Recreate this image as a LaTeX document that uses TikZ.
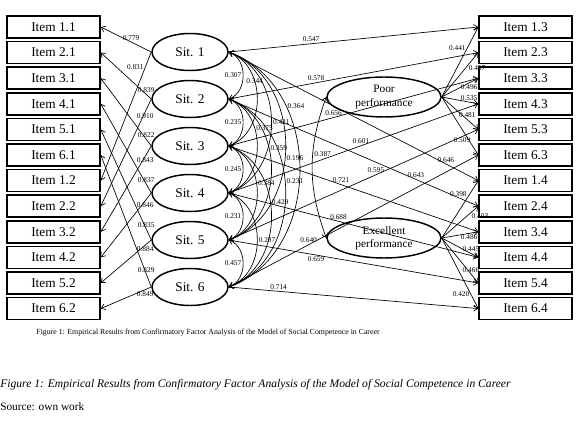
\documentclass[tikz,border=0pt]{standalone}
\usepackage{fontspec}
\setmainfont{Liberation Serif}
\usetikzlibrary{arrows.meta,positioning,shapes.geometric}

\begin{document}
\begin{tikzpicture}[
  x=0.75pt, y=-0.75pt,
  node distance=1.6pt,
  item/.style={draw, line width=1.1pt, minimum width=69.75pt, minimum height=16.5pt, inner sep=0pt, font=\fontsize{10}{12}\selectfont},
  sit/.style={draw, ellipse, line width=1.1pt, minimum width=57pt, minimum height=27.75pt, inner sep=0pt, font=\fontsize{10}{12}\selectfont},
  perf/.style={draw, ellipse, line width=1.1pt, minimum width=85.5pt, minimum height=30pt, inner sep=0pt, align=center, font=\fontsize{8.5}{10}\selectfont},
  load/.style={-{Straight Barb[length=3pt,width=4.5pt]}, line width=0.5pt},
  cov/.style={{Straight Barb[length=3pt,width=4.5pt]}-{Straight Barb[length=3pt,width=4.5pt]}, line width=0.5pt},
  lbl/.style={font=\fontsize{5.5}{6}\selectfont, inner sep=1pt}
]
\useasboundingbox (0,0) rectangle (580,420);

% left items
\node[item] (i11) at (53.5,27) {Item 1.1};
\node[item, below=of i11] (i21) {Item 2.1};
\node[item, below=of i21] (i31) {Item 3.1};
\node[item, below=of i31] (i41) {Item 4.1};
\node[item, below=of i41] (i51) {Item 5.1};
\node[item, below=of i51] (i61) {Item 6.1};
\node[item, below=of i61] (i12) {Item 1.2};
\node[item, below=of i12] (i22) {Item 2.2};
\node[item, below=of i22] (i32) {Item 3.2};
\node[item, below=of i32] (i42) {Item 4.2};
\node[item, below=of i42] (i52) {Item 5.2};
\node[item, below=of i52] (i62) {Item 6.2};

% right items
\node[item] (i13) at (525.5,27) {Item 1.3};
\node[item, below=of i13] (i23) {Item 2.3};
\node[item, below=of i23] (i33) {Item 3.3};
\node[item, below=of i33] (i43) {Item 4.3};
\node[item, below=of i43] (i53) {Item 5.3};
\node[item, below=of i53] (i63) {Item 6.3};
\node[item, below=of i63] (i14) {Item 1.4};
\node[item, below=of i14] (i24) {Item 2.4};
\node[item, below=of i24] (i34) {Item 3.4};
\node[item, below=of i34] (i44) {Item 4.4};
\node[item, below=of i44] (i54) {Item 5.4};
\node[item, below=of i54] (i64) {Item 6.4};

% situations
\node[sit] (s1) at (190,52) {Sit. 1};
\node[sit, below=6.4pt of s1] (s2) {Sit. 2};
\node[sit, below=6.4pt of s2] (s3) {Sit. 3};
\node[sit, below=6.4pt of s3] (s4) {Sit. 4};
\node[sit, below=6.4pt of s4] (s5) {Sit. 5};
\node[sit, below=6.4pt of s5] (s6) {Sit. 6};

% performance factors
\node[perf] (poor) at (384,97) {Poor\\performance};
\node[perf] (excel) at (384,238) {Excellent\\performance};

% loadings, left
\draw[load] (s1.west) -- node[lbl, pos=.4, above] {0.779} (i11.east);
\draw[load] (s1.west) -- node[lbl, pos=.12, left] {0.831} (i12.east);
\draw[load] (s2.west) -- node[lbl, pos=.1, above] {0.839} (i21.east);
\draw[load] (s2.west) -- node[lbl, pos=.12, below] {0.910} (i22.east);
\draw[load] (s3.west) -- node[lbl, pos=.1, above] {0.822} (i31.east);
\draw[load] (s3.west) -- node[lbl, pos=.12, below] {0.843} (i32.east);
\draw[load] (s4.west) -- node[lbl, pos=.1, above] {0.837} (i41.east);
\draw[load] (s4.west) -- node[lbl, pos=.12, below] {0.846} (i42.east);
\draw[load] (s5.west) -- node[lbl, pos=.1, above] {0.835} (i51.east);
\draw[load] (s5.west) -- node[lbl, pos=.12, below] {0.884} (i52.east);
\draw[load] (s6.west) -- node[lbl, pos=.1, above] {0.829} (i61.east);
\draw[load] (s6.west) -- node[lbl, pos=.12, below] {0.849} (i62.east);

% loadings, right
\draw[load] (s1.east) -- node[lbl, pos=.33, above] {0.547} (i13.west);
\draw[load] (s1.east) -- node[lbl, pos=.87, above] {0.646} (i14.west);
\draw[load] (s2.east) -- node[lbl, pos=.35, above] {0.578} (i23.west);
\draw[load] (s2.east) -- node[lbl, pos=.75, above] {0.643} (i24.west);
\draw[load] (s3.east) -- node[lbl, pos=.42, above] {0.656} (i33.west);
\draw[load] (s3.east) -- node[lbl, pos=.45, above] {0.721} (i34.west);
\draw[load] (s4.east) -- node[lbl, pos=.53, above] {0.601} (i43.west);
\draw[load] (s4.east) -- node[lbl, pos=.44, above] {0.688} (i44.west);
\draw[load] (s5.east) -- node[lbl, pos=.59, above] {0.595} (i53.west);
\draw[load] (s5.east) -- node[lbl, pos=.35, below] {0.659} (i54.west);
\draw[load] (s6.east) -- node[lbl, pos=.32, above] {0.640} (i63.west);
\draw[load] (s6.east) -- node[lbl, pos=.2, above] {0.714} (i64.west);

% method factors
\draw[load] (poor.east) -- node[lbl, pos=.7, left] {0.441} (i13.west);
\draw[load] (poor.east) -- node[lbl, pos=.72, below right=-1pt] {0.457} (i23.west);
\draw[load] (poor.east) -- node[lbl, pos=.75, below] {0.496} (i33.west);
\draw[load] (poor.east) -- node[lbl, pos=.75, above] {0.535} (i43.west);
\draw[load] (poor.east) -- node[lbl, pos=.7, above] {0.481} (i53.west);
\draw[load] (poor.east) -- node[lbl, pos=.8, above left=-1pt] {0.509} (i63.west);
\draw[load] (excel.east) -- node[lbl, pos=.7, above left=-1pt] {0.398} (i14.west);
\draw[load] (excel.east) -- node[lbl, pos=.8, below right=-1pt] {0.403} (i24.west);
\draw[load] (excel.east) -- node[lbl, pos=.75, below] {0.486} (i34.west);
\draw[load] (excel.east) -- node[lbl, pos=.8, above] {0.445} (i44.west);
\draw[load] (excel.east) -- node[lbl, pos=.8, above] {0.466} (i54.west);
\draw[load] (excel.east) -- node[lbl, pos=.8, left] {0.420} (i64.west);

% covariances
\draw[cov] (s1.east) to[bend left=70, looseness=1.1] node[lbl, pos=.5, left] {0.307} (s2.east);
\draw[cov] (s2.east) to[bend left=70, looseness=1.1] node[lbl, pos=.5, left] {0.235} (s3.east);
\draw[cov] (s3.east) to[bend left=70, looseness=1.1] node[lbl, pos=.5, left] {0.245} (s4.east);
\draw[cov] (s4.east) to[bend left=70, looseness=1.1] node[lbl, pos=.5, left] {0.231} (s5.east);
\draw[cov] (s5.east) to[bend left=70, looseness=1.1] node[lbl, pos=.5, left] {0.457} (s6.east);
\draw[cov] (s1.east) to[bend left=70, looseness=1.1] node[lbl, pos=.35] {0.344} (s3.east);
\draw[cov] (s2.east) to[bend left=70, looseness=1.1] node[lbl, pos=.35, right] {0.375} (s4.east);
\draw[cov] (s3.east) to[bend left=70, looseness=1.1] node[lbl, pos=.42, right] {0.384} (s5.east);
\draw[cov] (s4.east) to[bend left=70, looseness=1.1] node[lbl, pos=.5, right] {0.287} (s6.east);
\draw[cov] (s1.east) to[bend left=70, looseness=1.1] node[lbl, pos=.5, right] {0.421} (s4.east);
\draw[cov] (s2.east) to[bend left=70, looseness=1.1] node[lbl, pos=.38, right] {0.359} (s5.east);
\draw[cov] (s3.east) to[bend left=70, looseness=1.1] node[lbl, pos=.42, right] {0.429} (s6.east);
\draw[cov] (s1.east) to[bend left=70, looseness=1.1] node[lbl, pos=.55, right] {0.196} (s5.east);
\draw[cov] (s2.east) to[bend left=70, looseness=1.1] node[lbl, pos=.45, right] {0.231} (s6.east);
\draw[cov] (s1.east) to[bend left=70, looseness=1.1] node[lbl, pos=.28, right] {0.364} (s6.east);
\draw[cov] (poor.west) to[bend right=20] node[lbl, pos=.4, right] {0.387} (excel.west);

% captions
\node[font=\fontsize{5.85}{7}\selectfont, inner sep=0pt] (cap) at (208,333) {Figure 1: Empirical Results from Confirmatory Factor Analysis of the Model of Social Competence in Career};
\node[anchor=west, inner sep=0pt, font=\itshape\fontsize{8.7}{10}\selectfont] (capit) at (0,385) {Figure 1: Empirical Results from Confirmatory Factor Analysis of the Model of Social Competence in Career};
\node[anchor=west, inner sep=0pt, font=\fontsize{8.5}{10}\selectfont] (src) at (0,407) {Source: own work};
\end{tikzpicture}
\end{document}
